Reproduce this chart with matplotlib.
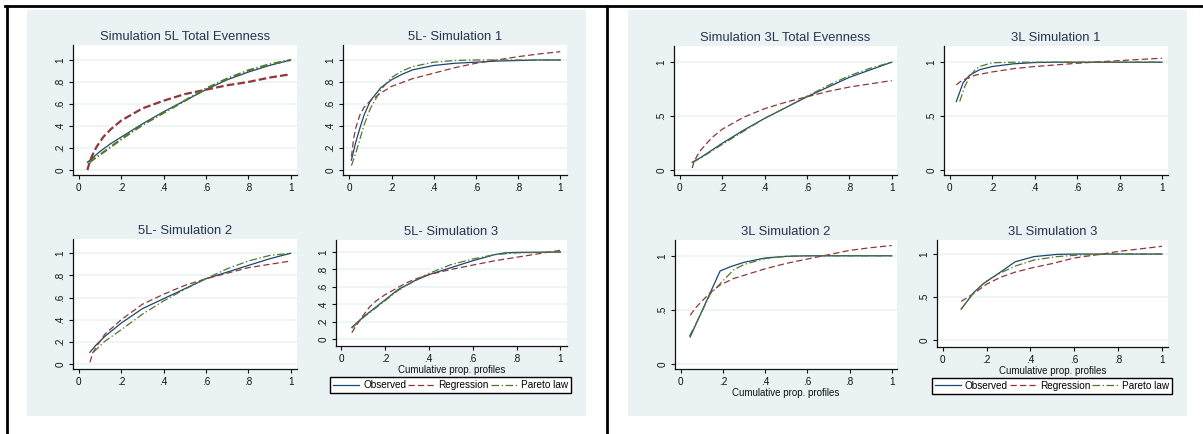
import matplotlib
matplotlib.use('Agg')
import matplotlib.pyplot as plt
from matplotlib.patches import Rectangle
from matplotlib.lines import Line2D

plt.rcParams['font.family'] = ['Liberation Sans', 'DejaVu Sans']
plt.rcParams['lines.scale_dashes'] = False

# ---- data ----
xticks = [0, 0.2, 0.4, 0.6, 0.8, 1.0]
xtick_labels = ['0', '.2', '.4', '.6', '.8', '1']
yticks5 = [0, 0.2, 0.4, 0.6, 0.8, 1.0]
ytick_labels5 = ['0', '.2', '.4', '.6', '.8', '1']
yticks3 = [0, 0.5, 1.0]
ytick_labels3 = ['0', '.5', '1']
series_names = ['Observed', 'Regression', 'Pareto law']

# 5L total evenness
te5_obs_x = [0.04, 0.07, 0.1, 0.15, 0.2, 0.3, 0.4, 0.5, 0.6, 0.7, 0.8, 0.9, 1.0]
te5_obs_y = [0.07, 0.12, 0.17, 0.24, 0.30, 0.42, 0.53, 0.63, 0.73, 0.82, 0.89, 0.95, 1.0]
te5_reg_x = [0.04, 0.05, 0.06, 0.083, 0.115, 0.15, 0.2, 0.3, 0.4, 0.5, 0.6, 0.7, 0.8, 0.9, 1.0]
te5_reg_y = [0.0, 0.07, 0.12, 0.21, 0.30, 0.37, 0.45, 0.56, 0.63, 0.69, 0.73, 0.77, 0.80, 0.84, 0.87]
te5_par_x = [0.05, 0.07, 0.1, 0.15, 0.2, 0.3, 0.4, 0.5, 0.6, 0.7, 0.8, 0.9, 1.0]
te5_par_y = [0.07, 0.10, 0.14, 0.21, 0.28, 0.41, 0.52, 0.63, 0.74, 0.83, 0.905, 0.96, 1.0]

# 5L simulation 1
s51_obs_x = [0.01, 0.03, 0.05, 0.07, 0.1, 0.15, 0.2, 0.25, 0.3, 0.4, 0.5, 0.6, 0.7, 0.8, 0.9, 1.0]
s51_obs_y = [0.09, 0.25, 0.38, 0.50, 0.63, 0.75, 0.82, 0.87, 0.91, 0.95, 0.97, 0.98, 0.99, 0.995, 1.0, 1.0]
s51_reg_x = [0.01, 0.02, 0.03, 0.05, 0.07, 0.1, 0.15, 0.2, 0.3, 0.4, 0.5, 0.6, 0.7, 0.8, 0.9, 1.0]
s51_reg_y = [0.12, 0.28, 0.38, 0.50, 0.57, 0.63, 0.70, 0.76, 0.83, 0.88, 0.93, 0.97, 1.0, 1.03, 1.055, 1.075]
s51_par_x = [0.01, 0.03, 0.05, 0.07, 0.1, 0.15, 0.2, 0.25, 0.3, 0.4, 0.5, 0.6, 0.8, 1.0]
s51_par_y = [0.04, 0.15, 0.28, 0.41, 0.56, 0.73, 0.84, 0.90, 0.94, 0.98, 0.995, 1.0, 1.0, 1.0]

# 5L simulation 2
s52_obs_x = [0.052, 0.08, 0.123, 0.2, 0.3, 0.4, 0.5, 0.6, 0.7, 0.8, 0.9, 1.0]
s52_obs_y = [0.106, 0.17, 0.25, 0.37, 0.50, 0.59, 0.68, 0.77, 0.83, 0.89, 0.95, 1.0]
s52_reg_x = [0.052, 0.065, 0.084, 0.123, 0.2, 0.3, 0.4, 0.5, 0.6, 0.7, 0.8, 0.9, 1.0]
s52_reg_y = [0.015, 0.10, 0.16, 0.27, 0.40, 0.54, 0.63, 0.71, 0.77, 0.82, 0.87, 0.90, 0.93]
s52_par_x = [0.068, 0.123, 0.2, 0.3, 0.4, 0.5, 0.6, 0.7, 0.8, 0.9, 1.0]
s52_par_y = [0.106, 0.206, 0.31, 0.45, 0.57, 0.675, 0.77, 0.86, 0.93, 0.98, 1.0]

# 5L simulation 3
s53_obs_x = [0.049, 0.107, 0.2, 0.26, 0.335, 0.4, 0.5, 0.6, 0.7, 0.745, 0.8, 1.0]
s53_obs_y = [0.137, 0.267, 0.45, 0.57, 0.67, 0.74, 0.82, 0.90, 0.97, 0.99, 0.996, 1.0]
s53_reg_x = [0.049, 0.07, 0.1, 0.13, 0.16, 0.2, 0.25, 0.3, 0.35, 0.4, 0.5, 0.6, 0.7, 0.8, 0.9, 1.0]
s53_reg_y = [0.076, 0.16, 0.27, 0.37, 0.44, 0.51, 0.58, 0.65, 0.70, 0.74, 0.80, 0.85, 0.90, 0.94, 0.98, 1.02]
s53_par_x = [0.049, 0.107, 0.2, 0.26, 0.335, 0.4, 0.5, 0.6, 0.7, 0.8, 1.0]
s53_par_y = [0.126, 0.26, 0.44, 0.56, 0.67, 0.755, 0.855, 0.92, 0.97, 0.99, 1.0]

# 3L total evenness
te3_obs_x = [0.058, 0.1, 0.2, 0.3, 0.4, 0.5, 0.6, 0.7, 0.8, 0.9, 1.0]
te3_obs_y = [0.074, 0.12, 0.25, 0.37, 0.48, 0.58, 0.68, 0.77, 0.86, 0.93, 1.0]
te3_reg_x = [0.058, 0.065, 0.08, 0.1, 0.15, 0.2, 0.3, 0.4, 0.5, 0.6, 0.7, 0.8, 0.9, 1.0]
te3_reg_y = [0.02, 0.07, 0.13, 0.19, 0.30, 0.38, 0.49, 0.57, 0.63, 0.68, 0.73, 0.77, 0.80, 0.83]
te3_par_x = [0.058, 0.1, 0.2, 0.3, 0.4, 0.5, 0.6, 0.7, 0.8, 0.9, 1.0]
te3_par_y = [0.07, 0.115, 0.24, 0.36, 0.48, 0.58, 0.685, 0.785, 0.875, 0.945, 1.0]

# 3L simulation 1
s31_obs_x = [0.031, 0.063, 0.094, 0.14, 0.2, 0.3, 0.4, 0.5, 0.6, 0.8, 1.0]
s31_obs_y = [0.636, 0.81, 0.88, 0.93, 0.96, 0.985, 0.997, 1.0, 1.0, 1.0, 1.0]
s31_reg_x = [0.031, 0.05, 0.08, 0.12, 0.2, 0.3, 0.4, 0.5, 0.6, 0.7, 0.8, 0.9, 1.0]
s31_reg_y = [0.79, 0.82, 0.85, 0.88, 0.91, 0.94, 0.96, 0.975, 0.99, 1.003, 1.015, 1.026, 1.037]
s31_par_x = [0.047, 0.07, 0.094, 0.12, 0.14, 0.2, 0.3, 0.4, 0.6, 0.8, 1.0]
s31_par_y = [0.636, 0.77, 0.87, 0.93, 0.96, 0.995, 1.0, 1.0, 1.0, 1.0, 1.0]

# 3L simulation 2
s32_obs_x = [0.044, 0.186, 0.236, 0.3, 0.4, 0.5, 0.6, 0.8, 1.0]
s32_obs_y = [0.25, 0.86, 0.90, 0.94, 0.98, 0.995, 1.0, 1.0, 1.0]
s32_reg_x = [0.044, 0.07, 0.094, 0.14, 0.186, 0.25, 0.3, 0.4, 0.5, 0.6, 0.7, 0.8, 0.9, 1.0]
s32_reg_y = [0.45, 0.52, 0.57, 0.66, 0.73, 0.79, 0.82, 0.88, 0.93, 0.97, 1.01, 1.05, 1.075, 1.095]
s32_par_x = [0.04, 0.094, 0.14, 0.19, 0.25, 0.3, 0.4, 0.5, 0.6, 0.8, 1.0]
s32_par_y = [0.255, 0.46, 0.65, 0.75, 0.87, 0.92, 0.975, 0.995, 1.0, 1.0, 1.0]

# 3L simulation 3
s33_obs_x = [0.084, 0.14, 0.187, 0.263, 0.33, 0.415, 0.52, 0.6, 0.8, 1.0]
s33_obs_y = [0.36, 0.55, 0.66, 0.79, 0.91, 0.97, 0.996, 1.0, 1.0, 1.0]
s33_reg_x = [0.084, 0.14, 0.2, 0.263, 0.33, 0.415, 0.5, 0.6, 0.7, 0.8, 0.9, 1.0]
s33_reg_y = [0.45, 0.54, 0.65, 0.73, 0.79, 0.845, 0.89, 0.955, 0.99, 1.03, 1.06, 1.09]
s33_par_x = [0.084, 0.14, 0.2, 0.263, 0.33, 0.415, 0.52, 0.63, 0.8, 1.0]
s33_par_y = [0.36, 0.55, 0.69, 0.78, 0.86, 0.93, 0.97, 0.99, 1.0, 1.0]

# ---- layout (pixels) ----
W, H = 1203, 434
BG = '#eaf2f3'
NAVY = '#1a476f'
MAROON = '#90353b'
GREEN = '#55752f'
TITLE_COL = '#26344f'


def box(l, t, r, b):
    return [l / W, 1 - b / H, (r - l) / W, (b - t) / H]


panels = [
    dict(title='Simulation 5L Total Evenness', pos=(73, 45, 297, 175), xlim=(-0.028, 1.03), ylim=(-0.045, 1.136),
         yt=(yticks5, ytick_labels5), obs=(te5_obs_x, te5_obs_y), reg=(te5_reg_x, te5_reg_y),
         par=(te5_par_x, te5_par_y), xlabel=False, thick=True),
    dict(title='5L- Simulation 1', pos=(343, 45, 567, 175), xlim=(-0.03, 1.032), ylim=(-0.045, 1.136),
         yt=(yticks5, ytick_labels5), obs=(s51_obs_x, s51_obs_y), reg=(s51_reg_x, s51_reg_y),
         par=(s51_par_x, s51_par_y), xlabel=False, thick=False),
    dict(title='5L- Simulation 2', pos=(73, 239, 297, 369), xlim=(-0.028, 1.03), ylim=(-0.045, 1.129),
         yt=(yticks5, ytick_labels5), obs=(s52_obs_x, s52_obs_y), reg=(s52_reg_x, s52_reg_y),
         par=(s52_par_x, s52_par_y), xlabel=False, thick=False),
    dict(title='5L- Simulation 3', pos=(336, 240, 567, 346), xlim=(-0.023, 1.03), ylim=(-0.077, 1.138),
         yt=(yticks5, ytick_labels5), obs=(s53_obs_x, s53_obs_y), reg=(s53_reg_x, s53_reg_y),
         par=(s53_par_x, s53_par_y), xlabel=True, thick=False, legend=(450.5, 385)),
    dict(title='Simulation 3L Total Evenness', pos=(674, 46, 897, 175), xlim=(-0.028, 1.025), ylim=(-0.044, 1.15),
         yt=(yticks3, ytick_labels3), obs=(te3_obs_x, te3_obs_y), reg=(te3_reg_x, te3_reg_y),
         par=(te3_par_x, te3_par_y), xlabel=False, thick=False),
    dict(title='3L Simulation 1', pos=(944, 46, 1168, 175), xlim=(-0.027, 1.028), ylim=(-0.044, 1.15),
         yt=(yticks3, ytick_labels3), obs=(s31_obs_x, s31_obs_y), reg=(s31_reg_x, s31_reg_y),
         par=(s31_par_x, s31_par_y), xlabel=False, thick=False),
    dict(title='3L Simulation 2', pos=(675, 240, 897, 369), xlim=(-0.028, 1.025), ylim=(-0.046, 1.146),
         yt=(yticks3, ytick_labels3), obs=(s32_obs_x, s32_obs_y), reg=(s32_reg_x, s32_reg_y),
         par=(s32_par_x, s32_par_y), xlabel=True, thick=False),
    dict(title='3L Simulation 3', pos=(937, 240, 1168, 347), xlim=(-0.026, 1.027), ylim=(-0.078, 1.163),
         yt=(yticks3, ytick_labels3), obs=(s33_obs_x, s33_obs_y), reg=(s33_reg_x, s33_reg_y),
         par=(s33_par_x, s33_par_y), xlabel=True, thick=False, legend=(1052, 385.7)),
]

fig = plt.figure(figsize=(W / 100, H / 100), dpi=100)
fig.patch.set_facecolor('white')

# graph region backgrounds
for (l, t, r, b) in [(27, 10, 586, 416), (628, 10, 1187, 416)]:
    fig.add_artist(Rectangle((l / W, 1 - b / H), (r - l) / W, (b - t) / H, transform=fig.transFigure,
                             facecolor=BG, edgecolor='none', zorder=-5))

# table borders
fig.add_artist(Line2D([5 / W, 1], [1 - 5.5 / H, 1 - 5.5 / H], transform=fig.transFigure, color='black', lw=2))
fig.add_artist(Line2D([6.5 / W, 6.5 / W], [0, 1 - 5.5 / H], transform=fig.transFigure, color='black', lw=2))
fig.add_artist(Line2D([606.5 / W, 606.5 / W], [0, 1 - 5.5 / H], transform=fig.transFigure, color='black', lw=2))

for p in panels:
    ax = fig.add_axes(box(*p['pos']))
    ax.set_facecolor('white')
    for s in ['top', 'right']:
        ax.spines[s].set_visible(False)
    for s in ['left', 'bottom']:
        ax.spines[s].set_color('#111111')
        ax.spines[s].set_linewidth(0.9)

    lw_thin = 0.9
    lw_fat = 1.6 if p['thick'] else lw_thin
    l1, = ax.plot(p['obs'][0], p['obs'][1], color=NAVY, lw=lw_thin, label=series_names[0])
    l2, = ax.plot(p['reg'][0], p['reg'][1], color=MAROON, lw=lw_fat, label=series_names[1])
    l2.set_dashes((4.5, 2.3) if not p['thick'] else (5.5, 2.3))
    l3, = ax.plot(p['par'][0], p['par'][1], color=GREEN, lw=lw_fat, label=series_names[2])
    l3.set_dashes((5.5, 1.8, 1.0, 1.8))

    ax.set_xlim(*p['xlim'])
    ax.set_ylim(*p['ylim'])
    ax.set_xticks(xticks)
    ax.set_xticklabels(xtick_labels)
    ax.set_yticks(p['yt'][0])
    ax.set_yticklabels(p['yt'][1], rotation=90, va='center')
    ax.yaxis.grid(True, color=BG, lw=1.1)
    ax.set_axisbelow(True)
    ax.tick_params(direction='out', length=3, width=0.8, pad=2.5, labelsize=7.2, colors='#111111')

    ax.set_title(p['title'], fontsize=9.4, color=TITLE_COL, pad=3.5)
    if p['xlabel']:
        ax.set_xlabel('Cumulative prop. profiles', fontsize=7.0, labelpad=1, color='#111111')

    if 'legend' in p:
        cx, cy = p['legend']
        leg = fig.legend([l1, l2, l3], series_names, loc='center', bbox_to_anchor=(cx / W, 1 - cy / H),
                         ncol=3, fontsize=7.2, frameon=True, fancybox=False, edgecolor='black', framealpha=1,
                         borderpad=0.3, handlelength=2.6, handletextpad=0.4, columnspacing=0.2,
                         borderaxespad=0)
        leg.get_frame().set_linewidth(1.0)

fig.savefig('out.png', dpi=100, facecolor='white')
